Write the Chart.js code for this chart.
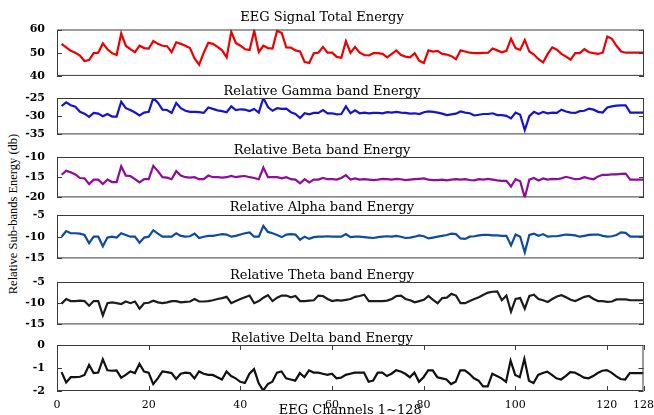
<!DOCTYPE html>
<html>
<head>
<meta charset="utf-8">
<script src="https://cdn.jsdelivr.net/npm/chart.js@4.4.1/dist/chart.umd.min.js"></script>
<style>
html,body{margin:0;padding:0;background:#fff;}
#wrap{position:relative;width:654px;height:415px;overflow:hidden;}
.panel{position:absolute;left:0;width:654px;}
#ylab{position:absolute;left:13px;top:214px;transform:translate(-50%,-50%) rotate(-90deg);white-space:nowrap;font-family:"Liberation Serif";font-size:12.5px;color:#000;}
</style>
</head>
<body>
<div id="wrap">
<div id="ylab">Relative Sub-bands Energy (db)</div>
</div>
<script>
const channels = Array.from({length:128},(_, i)=>i+1);
const xTicks = [0,20,40,60,80,100,120,128];

const titles = [
"EEG Signal Total Energy",
"Relative Gamma band Energy",
"Relative Beta band Energy",
"Relative Alpha band Energy",
"Relative Theta band Energy",
"Relative Delta band Energy"
];

const yTicks = [
[40,50,60],
[-35,-30,-25],
[-20,-15,-10],
[-15,-10,-5],
[-15,-10,-5],
[-2,-1,0]
];

const totalEnergy = [
53.8,52.3,50.8,50.0,48.8,46.4,46.8,49.8,50.0,54.0,51.5,49.8,49.0,58.3,53.0,51.5,
50.2,53.0,52.0,51.8,55.0,53.8,53.0,52.8,50.2,54.5,53.8,53.0,52.0,47.5,44.8,50.0,
54.3,53.8,52.5,51.0,48.0,59.0,54.2,53.0,51.5,51.2,59.5,50.3,53.0,52.0,51.8,59.5,
58.5,52.3,52.2,51.0,50.5,46.0,45.6,49.8,50.0,52.5,50.0,50.0,48.2,47.8,55.0,50.0,
52.5,50.0,49.0,48.8,49.8,49.8,49.5,48.0,49.5,51.0,49.0,48.3,48.0,49.8,46.5,45.6,
51.0,50.5,50.8,49.5,49.2,48.5,47.2,51.0,50.5,50.0,49.8,49.8,49.9,50.0,51.8,51.0,
50.2,50.8,56.0,52.0,51.2,55.5,50.5,49.2,47.2,45.8,49.5,52.3,51.3,49.5,48.3,47.0,
49.8,49.8,51.5,50.2,49.8,49.5,50.0,57.0,56.0,53.0,50.5,50.0,50.0,50.0,50.0,50.0
];

const gamma = [
-27.2,-26.2,-27.0,-27.4,-28.8,-29.3,-30.2,-29.1,-29.3,-30.0,-29.4,-30.1,-30.1,-26.0,-27.8,-28.3,
-29.0,-29.8,-29.0,-28.8,-25.0,-26.3,-28.2,-28.3,-29.1,-26.4,-27.8,-28.5,-28.8,-28.8,-28.9,-29.1,
-27.6,-28.0,-28.4,-28.6,-28.9,-27.3,-28.3,-28.1,-28.2,-28.6,-28.0,-29.0,-25.0,-27.5,-28.5,-27.8,
-28.0,-27.9,-28.9,-29.4,-30.5,-29.2,-29.5,-29.1,-29.1,-28.3,-29.2,-29.2,-29.5,-29.4,-27.3,-29.2,
-28.4,-29.2,-29.0,-29.2,-29.1,-29.1,-29.2,-28.9,-29.0,-28.8,-29.0,-29.1,-29.3,-29.2,-29.4,-28.9,
-28.7,-28.8,-29.0,-29.3,-29.7,-29.5,-29.3,-28.7,-29.0,-29.2,-29.8,-29.6,-29.4,-29.4,-29.2,-29.7,
-29.7,-29.9,-30.6,-29.0,-29.6,-33.8,-30.0,-28.8,-29.4,-28.8,-29.2,-29.0,-29.1,-28.2,-28.7,-29.0,
-29.1,-28.6,-28.5,-27.9,-28.2,-28.8,-29.0,-27.6,-27.3,-27.1,-27.0,-27.0,-29.0,-29.0,-29.0,-29.0
];

const beta = [
-14.4,-13.4,-13.8,-14.3,-15.2,-15.3,-16.7,-15.6,-15.6,-16.7,-15.6,-16.2,-16.2,-12.3,-14.6,-14.7,
-15.5,-16.3,-15.5,-15.5,-12.2,-13.5,-15.0,-15.1,-15.5,-13.5,-14.6,-15.0,-15.1,-15.0,-15.5,-15.5,
-14.6,-15.0,-15.0,-15.1,-15.0,-14.7,-15.0,-14.8,-14.7,-15.0,-15.2,-15.5,-12.6,-15.0,-15.0,-15.0,
-15.3,-15.0,-15.5,-15.6,-16.5,-15.5,-16.3,-15.6,-15.6,-15.2,-15.5,-15.5,-15.6,-15.2,-14.5,-15.6,
-15.3,-15.6,-15.5,-15.6,-15.7,-15.6,-15.4,-15.5,-15.6,-15.4,-15.5,-15.7,-15.6,-15.5,-15.4,-15.3,
-15.6,-15.7,-15.7,-15.6,-15.8,-15.6,-15.5,-15.6,-15.5,-15.7,-15.8,-15.5,-15.6,-15.4,-15.6,-15.8,
-15.9,-15.9,-17.3,-15.5,-16.0,-20.0,-15.6,-15.2,-15.8,-15.3,-15.6,-15.4,-15.5,-15.3,-14.9,-15.2,
-15.5,-15.4,-15.0,-15.3,-15.5,-14.8,-14.4,-14.4,-14.3,-14.3,-14.2,-14.1,-15.6,-15.6,-15.6,-15.6
];

const alpha = [
-10.0,-8.7,-9.2,-9.2,-9.3,-9.6,-11.5,-10.0,-10.0,-12.2,-10.2,-10.0,-10.2,-9.2,-9.6,-10.0,
-10.0,-11.4,-10.2,-10.0,-8.5,-9.3,-10.0,-10.0,-10.0,-9.2,-9.8,-10.0,-9.9,-9.3,-10.3,-10.0,
-9.8,-9.8,-9.6,-9.4,-9.5,-10.0,-9.8,-9.5,-9.2,-9.0,-10.0,-10.0,-7.5,-8.9,-9.2,-9.6,
-10.1,-9.5,-9.4,-9.5,-10.7,-10.0,-10.5,-10.1,-10.0,-10.0,-9.9,-10.0,-10.0,-10.0,-9.4,-10.1,
-10.0,-10.0,-10.1,-10.2,-10.3,-10.1,-10.0,-9.9,-10.0,-9.8,-10.0,-10.3,-10.2,-10.0,-9.7,-9.9,
-10.4,-10.2,-10.0,-9.8,-9.6,-9.3,-9.4,-10.4,-10.5,-10.0,-9.9,-9.7,-9.6,-9.6,-9.7,-9.7,
-9.8,-9.8,-12.0,-9.5,-10.0,-13.6,-9.6,-9.3,-9.8,-9.4,-10.0,-9.9,-9.9,-9.7,-9.5,-9.6,
-9.7,-10.0,-9.8,-9.6,-9.5,-9.5,-9.8,-10.0,-9.9,-9.6,-9.0,-9.1,-10.0,-10.0,-10.0,-10.0
];

const theta = [
-10.1,-9.0,-9.5,-9.5,-9.4,-9.5,-10.6,-9.5,-9.5,-12.9,-10.0,-9.8,-10.0,-10.2,-9.6,-10.0,
-9.6,-11.3,-10.0,-9.9,-9.4,-9.8,-10.0,-9.8,-9.5,-9.5,-9.8,-9.7,-9.6,-9.0,-9.6,-9.6,
-9.5,-9.3,-9.0,-8.8,-8.5,-10.0,-9.5,-9.0,-8.6,-8.2,-10.0,-9.5,-8.7,-8.1,-9.5,-8.7,
-8.2,-8.2,-8.6,-8.3,-9.5,-9.5,-9.4,-9.3,-8.2,-8.3,-9.0,-9.5,-9.3,-9.4,-9.2,-9.0,
-8.5,-8.3,-8.0,-9.5,-9.5,-9.5,-9.5,-9.4,-9.0,-8.3,-8.2,-9.0,-9.3,-9.8,-9.5,-9.2,
-8.3,-9.2,-10.0,-8.8,-8.7,-7.8,-8.2,-10.0,-10.0,-9.5,-9.0,-8.6,-8.0,-7.5,-7.3,-7.2,
-9.3,-8.2,-12.0,-9.0,-8.8,-11.3,-8.3,-8.0,-9.0,-9.3,-9.7,-9.0,-8.4,-8.1,-8.6,-9.2,
-9.5,-9.0,-8.5,-8.3,-9.0,-9.5,-9.5,-9.7,-9.6,-9.1,-9.1,-9.1,-9.3,-9.3,-9.3,-9.3
];

const delta = [
-1.18,-1.63,-1.40,-1.40,-1.38,-1.30,-0.87,-1.22,-1.20,-0.62,-1.10,-1.12,-1.10,-1.42,-1.30,-1.15,
-1.22,-0.82,-1.15,-1.20,-1.70,-1.45,-1.15,-1.18,-1.22,-1.48,-1.25,-1.20,-1.22,-1.45,-1.15,-1.25,
-1.30,-1.30,-1.40,-1.50,-1.15,-1.35,-1.45,-1.60,-1.65,-1.25,-1.05,-1.65,-1.98,-1.70,-1.60,-1.20,
-1.15,-1.45,-1.50,-1.55,-1.22,-1.40,-1.10,-1.20,-1.20,-1.25,-1.30,-1.25,-1.45,-1.42,-1.30,-1.25,
-1.20,-1.20,-1.20,-1.60,-1.55,-1.20,-1.20,-1.35,-1.25,-1.10,-1.15,-1.25,-1.40,-1.20,-1.60,-1.40,
-1.10,-1.10,-1.40,-1.45,-1.50,-1.70,-1.60,-1.10,-1.10,-1.25,-1.45,-1.55,-1.80,-1.80,-1.25,-1.35,
-1.45,-1.60,-0.68,-1.30,-1.40,-0.60,-1.55,-1.65,-1.30,-1.22,-1.16,-1.30,-1.45,-1.50,-1.35,-1.18,
-1.20,-1.30,-1.42,-1.45,-1.35,-1.22,-1.12,-1.09,-1.20,-1.35,-1.48,-1.50,-1.22,-1.22,-1.22,-1.22
];

const series = [totalEnergy, gamma, beta, alpha, theta, delta];
const colors = ["#ee0000","#1414cc","#8e0c98","#0c4aa6","#1c1c1c","#111111"];

// box top / bottom in page pixels, and the gap under each title
const boxTop = [29,98,157,215,282,345];
const boxBottom = [78,137,200,261,327,391];
const titleGap = [5.5,0,0,1,0,0];

const serif = "'DejaVu Serif', serif";

const framePlugin = {
id:"frame",
afterDraw(chart){
const ctx = chart.ctx;
const a = chart.chartArea;
const y = chart.scales.y;
const x = chart.scales.x;
ctx.save();
ctx.strokeStyle = "#3a3a3a";
ctx.lineWidth = 1;
ctx.strokeRect(a.left+0.5, a.top+0.5, a.right-a.left-1, a.bottom-a.top-1);
ctx.beginPath();
y.ticks.forEach(t=>{
let py = Math.round(y.getPixelForValue(t.value))+0.5;
ctx.moveTo(a.left, py); ctx.lineTo(a.left+5, py);
ctx.moveTo(a.right, py); ctx.lineTo(a.right-5, py);
});
if(x.options.display){
x.ticks.forEach(t=>{
let px = Math.round(x.getPixelForValue(t.value))+0.5;
ctx.moveTo(px, a.bottom); ctx.lineTo(px, a.bottom-5);
ctx.moveTo(px, a.top); ctx.lineTo(px, a.top+5);
});
}
ctx.stroke();
ctx.restore();
}
};

const wrap = document.getElementById("wrap");

series.forEach((values, i)=>{
const last = i === series.length-1;
const top = boxTop[i] - 15 - titleGap[i];
const bottom = last ? 418 : boxBottom[i] + 8;

const div = document.createElement("div");
div.className = "panel";
div.style.top = top + "px";
div.style.height = (bottom - top) + "px";
const canvas = document.createElement("canvas");
div.appendChild(canvas);
wrap.appendChild(div);

new Chart(canvas,{
type:"line",
data:{
datasets:[{
data:values.map((v,k)=>({x:channels[k], y:v})),
borderColor:colors[i],
borderWidth:2.2,
pointRadius:0,
tension:0,
fill:false
}]
},
options:{
responsive:true,
maintainAspectRatio:false,
animation:false,
events:[],
layout:{
padding:{left:0, right:10, top:2, bottom: last ? 0 : 8}
},
plugins:{
legend:{display:false},
tooltip:{enabled:false},
title:{
display:true,
text:titles[i],
color:"#000",
font:{family:serif, size:13, weight:"normal", lineHeight:1},
padding:{top:0, bottom:titleGap[i]}
}
},
scales:{
x:{
type:"linear",
min:0,
max:128,
display:last,
grid:{display:false},
border:{display:false},
afterBuildTicks:s=>{ s.ticks = xTicks.map(v=>({value:v})); },
afterFit:s=>{ if(last) s.height = 418 - boxBottom[i]; },
ticks:{
color:"#000",
padding:0,
maxRotation:0,
autoSkip:false,
font:{family:serif, size:11}
},
title:{
display:true,
text:"EEG Channels 1~128",
color:"#000",
padding:0,
font:{family:serif, size:13, lineHeight:1.2}
}
},
y:{
min:yTicks[i][0],
max:yTicks[i][yTicks[i].length-1],
grid:{display:false},
border:{display:false},
afterBuildTicks:s=>{ s.ticks = yTicks[i].map(v=>({value:v})); },
afterFit:s=>{ s.width = 57; },
ticks:{
color:"#000",
padding:4,
font:{family:serif, size:11, weight:"bold"}
}
}
}
},
plugins:[framePlugin]
});
});
</script>
</body>
</html>
